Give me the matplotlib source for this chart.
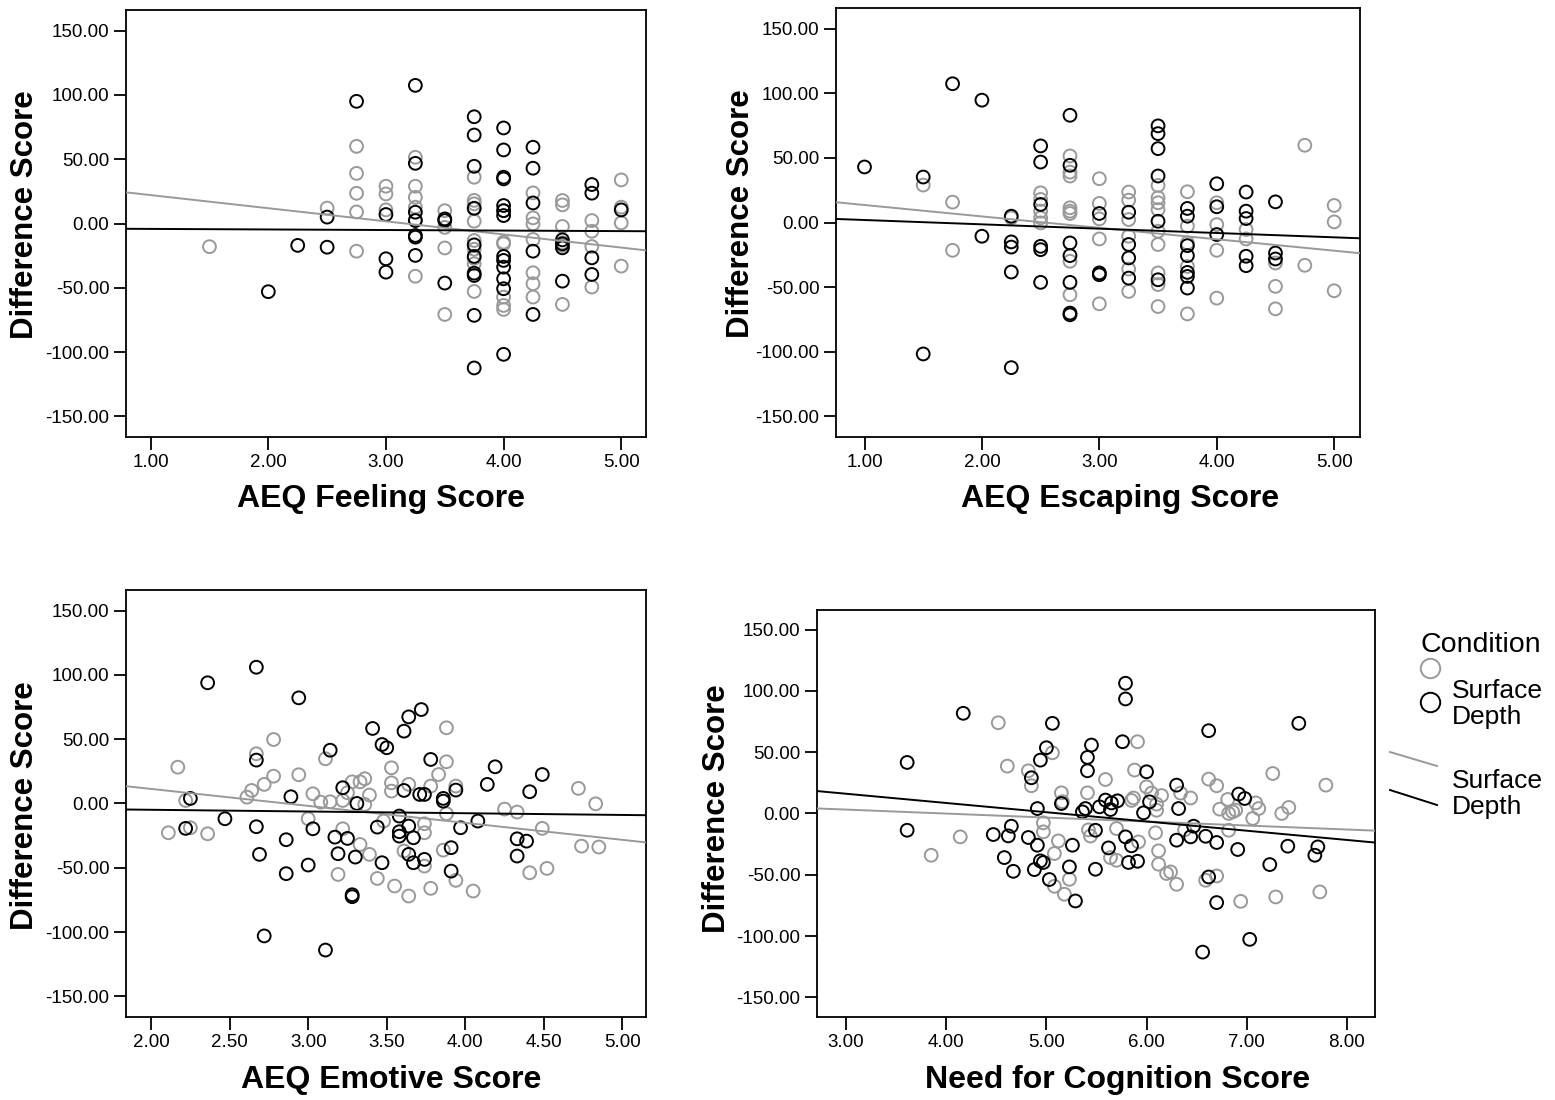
import numpy as np
import matplotlib
matplotlib.use('Agg')
import matplotlib.pyplot as plt
from matplotlib.lines import Line2D
from matplotlib.ticker import FormatStrFormatter

plt.rcParams['font.family'] = ['Liberation Sans', 'DejaVu Sans']

GRAY = '#999999'
BLACK = '#000000'

# --- AEQ Feeling (top left)
feel_surf_x = [1.5, 2.5, 2.75, 2.75, 2.75, 2.75, 2.75, 3.0, 3.0, 3.0,
               3.25, 3.25, 3.25, 3.25, 3.25, 3.25, 3.5, 3.5, 3.5, 3.5,
               3.75, 3.75, 3.75, 3.75, 3.75, 3.75, 3.75, 3.75, 3.75, 3.75,
               4.0, 4.0, 4.0, 4.0, 4.0, 4.0,
               4.25, 4.25, 4.25, 4.25, 4.25, 4.25, 4.25,
               4.5, 4.5, 4.5, 4.5, 4.5, 4.5, 4.75, 4.75, 4.75, 4.75,
               5.0, 5.0, 5.0, 5.0]
feel_surf_y = [-18, 12, 60, 39, 23.5, 9, -21.5, 29, 23, 10.6,
               51.5, 29, 20.4, 12.7, 3, -41, 10, -3, -19, -70.7,
               36, 18, 15.3, 11.4, 1.8, -13.2, -20, -27, -31.3, -52.8,
               10, -14.5, -15.8, -57.2, -63.7, -66.8,
               23.8, 4.4, -0.3, -12.4, -38.3, -46.8, -57.2,
               17.9, 14.5, -2.3, -15, -17, -62.9, 2.3, -6, -17.9, -49.4,
               33.9, 12.7, 0.5, -33.1]
feel_deep_x = [2.0, 2.25, 2.5, 2.5, 2.75, 3.0, 3.0, 3.0,
               3.25, 3.25, 3.25, 3.25, 3.25, 3.25, 3.25, 3.5, 3.5, 3.5,
               3.75, 3.75, 3.75, 3.75, 3.75, 3.75, 3.75, 3.75, 3.75, 3.75,
               4.0, 4.0, 4.0, 4.0, 4.0, 4.0, 4.0, 4.0, 4.0, 4.0, 4.0, 4.0, 4.0,
               4.25, 4.25, 4.25, 4.25, 4.25, 4.5, 4.5, 4.5, 4.5,
               4.75, 4.75, 4.75, 4.75, 5.0]
feel_deep_y = [-53, -17, 5, -18.4, 95, 7, -27.4, -37.8,
               107.4, 46.8, 8.8, 2.3, -9.3, -10.6, -24.8, 3.6, 2.3, -46.3,
               83, 68.8, 44.5, 11.9, -16.6, -25.6, -38.6, -40.4, -71.4, -112.3,
               74.3, 57.2, 36, 34.7, 14, 10, 6.2, -25.6, -28.7, -33.9, -43, -50.7, -101.7,
               59.3, 43, 16, -21.5, -70.7, -12.7, -15.8, -18.9, -44.8,
               30.3, 23.6, -26.7, -39.6, 10.6]

# --- AEQ Escaping (top right)
esc_surf_x = [1.5, 1.75, 1.75, 2.25, 2.5, 2.5, 2.5, 2.5, 2.5,
              2.75, 2.75, 2.75, 2.75, 2.75, 2.75, 2.75, 2.75,
              3.0, 3.0, 3.0, 3.0, 3.0, 3.25, 3.25, 3.25, 3.25, 3.25, 3.25,
              3.5, 3.5, 3.5, 3.5, 3.5, 3.5, 3.5, 3.5, 3.5,
              3.75, 3.75, 3.75, 3.75, 3.75, 4.0, 4.0, 4.0, 4.0,
              4.25, 4.25, 4.5, 4.5, 4.5, 4.75, 4.75, 5.0, 5.0, 5.0]
esc_surf_y = [29, 15.8, -21.5, 3.6, 23, 17.9, 8.8, 3.6, -0.3,
              51.5, 39, 36, 11.4, 8.8, 7, -30, -55.9,
              33.9, 14.8, 2.8, -12.7, -62.9, 23.6, 17.3, 2.3, -10.6, -36, -53.3,
              28.7, 19.2, 15.3, 10, -6.7, -17, -39, -48, -65,
              23.8, -2.8, -15.8, -34, -70.7, 15.3, -1.6, -21.5, -58.5,
              -5.4, -12.7, -31.3, -49.4, -66.8, 59.8, -33.1, 13.2, 0.5, -52.8]
esc_deep_x = [1.0, 1.5, 1.5, 1.75, 2.0, 2.0, 2.25, 2.25, 2.25, 2.25, 2.25,
              2.5, 2.5, 2.5, 2.5, 2.5, 2.5,
              2.75, 2.75, 2.75, 2.75, 2.75, 2.75, 2.75, 3.0, 3.0, 3.0,
              3.25, 3.25, 3.25, 3.25, 3.5, 3.5, 3.5, 3.5, 3.5, 3.5,
              3.75, 3.75, 3.75, 3.75, 3.75, 3.75, 3.75, 4.0, 4.0, 4.0,
              4.25, 4.25, 4.25, 4.25, 4.25, 4.5, 4.5, 4.5]
esc_deep_y = [43, 35.2, -101.7, 107.4, 94.7, -10.6, 4.9, -15, -19, -38.3, -112.3,
              59.3, 46.8, 14, -18.4, -21, -46.3,
              83, 44.3, -15.8, -25.6, -46.3, -70.1, -71.4, 7, -39, -40.4,
              8, -17, -27.4, -43, 74.8, 68.8, 57.2, 36, 1, -44.3,
              10.9, 4.9, -17.9, -25.6, -38.6, -41.7, -50.7, 30, 12.2, -9.3,
              23.6, 8.8, 3.1, -26.1, -33.4, 16, -23.6, -28.2]

# --- AEQ Emotive (bottom left)
emo_surf_x = [2.17, 2.22, 2.11, 2.25, 2.36, 2.67, 2.78, 2.78, 2.72, 2.64, 2.61, 2.94,
              3.0, 3.03, 3.08, 3.14, 3.11, 3.22, 3.28, 3.25, 3.33, 3.36, 3.39, 3.36,
              3.22, 3.33, 3.39, 3.19, 3.44,
              3.88, 3.88, 3.53, 3.83, 3.53, 3.53, 3.64, 3.78, 3.94, 4.72, 4.83, 4.25,
              4.33, 3.88, 3.74, 3.74, 4.49, 4.74, 4.85, 4.41, 4.52, 3.86, 3.94, 4.05,
              3.74, 3.55, 3.64, 3.78, 3.61, 3.48]
emo_surf_y = [28.2, 2.3, -22.8, -18.9, -23.6, 38.6, 49.7, 21.2, 14.8, 10.1, 4.9, 22.3,
              -11.9, 7.5, 1, 1.3, 34.7, 2.3, 16.8, 8.3, 16.8, 19.2, 6.5, -0.8,
              -19.7, -31.9, -39.6, -55.2, -58.3,
              58.8, 32.4, 27.7, 22.5, 16, 9.6, 14.8, 13.5, 13.5, 11.7, -0.3, -4.4,
              -6.7, -8, -15.8, -22.8, -19.4, -33.2, -33.9, -53.9, -50.5, -36.3, -59.8, -68.1,
              -48.7, -64.2, -72, -66, -37, -13.7]
emo_deep_x = [2.25, 2.22, 2.36, 2.47, 2.67, 2.67, 2.67, 2.69, 2.72, 2.94, 2.89, 2.86,
              2.86, 3.03, 3.0, 3.14, 3.11, 3.22, 3.31, 3.17, 3.25, 3.19, 3.30, 3.28,
              3.28, 3.41, 3.47, 3.50, 3.44, 3.47,
              3.72, 3.64, 3.61, 3.78, 4.19, 4.49, 4.14, 3.61, 3.71, 3.74, 3.86, 3.86,
              3.94, 4.41, 3.58, 3.64, 3.58, 3.58, 3.67, 3.97, 4.08, 4.33, 4.39, 4.33,
              3.91, 3.91, 3.64, 3.67, 3.74]
emo_deep_y = [3.9, -19.4, 93.8, -11.9, 105.9, 33.7, -18.1, -39.6, -103, 82.1, 5.2, -28.2,
              -54.6, -19.7, -47.9, 41.4, -114, 12.2, 0, -26.2, -27.2, -39.1, -41.7, -71,
              -72.5, 58.3, 45.8, 43.3, -18.4, -46.1,
              73, 67.3, 56.2, 34.2, 28.5, 22.5, 14.8, 10.1, 7, 7, 3.9, 1.8,
              10.4, 9.1, -9.8, -17.6, -22, -25.4, -26.7, -18.9, -13.7, -27.5, -29.3, -40.9,
              -34.4, -52.6, -39.6, -46.1, -43.5]

# --- Need for Cognition (bottom right)
nfc_surf_x = [4.52, 5.06, 4.61, 4.82, 4.85, 5.15, 5.41, 4.97, 4.97, 4.14, 3.85, 5.12,
              5.08, 5.08, 5.23, 5.18, 5.42, 5.44, 5.16,
              5.91, 5.88, 5.59, 7.26, 7.79, 6.62, 6.70, 6.0, 6.05, 6.15, 6.34, 6.44,
              6.81, 6.73, 6.82, 6.86, 6.89, 7.09, 7.12, 7.06, 7.35, 7.42, 5.70, 5.92,
              5.64, 5.70, 6.09, 6.12, 6.12, 6.20, 6.24, 6.30, 6.38, 6.82, 6.59, 6.70,
              6.94, 7.29, 7.73, 5.85, 5.87, 6.1, 6.1]
nfc_surf_y = [74, 49.5, 38.6, 34.8, 22.6, 16.8, 16.8, -7.7, -15, -19.1, -34.1, -22.4,
              -32.7, -59.4, -53.7, -65.9, -13.4, -18.4, 9.6,
              58.5, 35.4, 27.7, 32.6, 23.1, 28, 22.6, 21.7, 16.6, 14.6, 16.6, 12.6,
              11.4, 3.5, 0, 1.3, 2.7, 8.6, 4, -4.1, 0, 4.9, -12.3, -23.2,
              -36, -38.2, -15.8, -30.5, -41.4, -49, -47.7, -57.8, -13.4, -13.7, -54.5, -51,
              -71.7, -68.1, -64, 10.6, 12.6, 2.6, 7.6]
nfc_deep_x = [4.17, 5.06, 3.61, 5.0, 4.94, 4.85, 5.45, 5.41, 5.41, 5.15, 4.91, 5.36,
              5.39, 3.61, 4.47, 4.62, 4.65, 4.82, 4.91, 5.26, 4.58, 4.67, 4.88, 4.94,
              4.97, 5.03, 5.23, 5.29, 5.49, 5.49,
              5.79, 5.79, 7.52, 6.62, 5.76, 6.0, 6.30, 6.92, 6.98, 6.03, 6.32, 5.97,
              5.59, 5.65, 5.71, 5.64, 5.53, 6.47, 5.79, 5.85, 5.62, 5.82, 5.91, 6.30,
              6.44, 6.59, 6.70, 6.91, 6.62, 6.70, 6.56, 7.03, 7.23, 7.41, 7.71, 7.68]
nfc_deep_y = [81.7, 73.5, 41.6, 53.6, 43.5, 29.1, 55.8, 45.7, 34.8, 8.1, 4, 1.3,
              4, -13.7, -17.2, -18.3, -10.4, -19.6, -25.9, -25.9, -36, -47.2, -45.8, -38.7,
              -40, -53.9, -43.6, -71.4, -13.7, -45.5,
              106.2, 93.4, 73.5, 67.5, 58.5, 34, 23.1, 15.8, 12.2, 9.5, 4, 0.5,
              10.9, 8.6, 10.3, 3.2, 5.4, -10.4, -19.1, -26.4, -28.1, -40, -39, -21.8,
              -19.1, -18.6, -23.7, -29.4, -51.8, -72.7, -113.1, -102.7, -41.7, -26.7, -27.3, -34.1]

# fit lines (intercept, slope)
fit_feel = {'Surface': (32.3, -10.2), 'Depth': (-3.76, -0.43)}
fit_esc = {'Surface': (22.4, -8.84), 'Depth': (5.3, -3.35)}
fit_emo = {'Surface': (37.7, -13.2), 'Depth': (-2.25, -1.34)}
fit_nfc = {'Surface': (12.9, -3.25), 'Depth': (38.7, -7.54)}

y_ticks = [-150, -100, -50, 0, 50, 100, 150]

fig = plt.figure(figsize=(15.55, 11), dpi=100)

panels = [
    dict(rect=[0.0810, 0.6027, 0.3344, 0.3882], xlim=(0.79, 5.21), xticks=[1, 2, 3, 4, 5],
         xlabel='AEQ Feeling Score', xl_pos=(0.49, -0.145), yl_pos=(-0.194, 0.52),
         sx=feel_surf_x, sy=feel_surf_y, dx=feel_deep_x, dy=feel_deep_y, fit=fit_feel),
    dict(rect=[0.5376, 0.6027, 0.3370, 0.3900], xlim=(0.757, 5.22), xticks=[1, 2, 3, 4, 5],
         xlabel='AEQ Escaping Score', xl_pos=(0.542, -0.145), yl_pos=(-0.181, 0.52),
         sx=esc_surf_x, sy=esc_surf_y, dx=esc_deep_x, dy=esc_deep_y, fit=fit_esc),
    dict(rect=[0.0810, 0.0755, 0.3344, 0.3882], xlim=(1.84, 5.15),
         xticks=[2, 2.5, 3, 3.5, 4, 4.5, 5],
         xlabel='AEQ Emotive Score', xl_pos=(0.51, -0.1475), yl_pos=(-0.194, 0.496),
         sx=emo_surf_x, sy=emo_surf_y, dx=emo_deep_x, dy=emo_deep_y, fit=fit_emo),
    dict(rect=[0.5254, 0.0755, 0.3588, 0.3700], xlim=(2.71, 8.28), xticks=[3, 4, 5, 6, 7, 8],
         xlabel='Need for Cognition Score', xl_pos=(0.538, -0.155), yl_pos=(-0.18, 0.513),
         sx=nfc_surf_x, sy=nfc_surf_y, dx=nfc_deep_x, dy=nfc_deep_y, fit=fit_nfc),
]

for p in panels:
    ax = fig.add_axes(p['rect'])
    ax.scatter(p['sx'], p['sy'], s=85, facecolors='none', edgecolors=GRAY, linewidths=1.4, zorder=3)
    ax.scatter(p['dx'], p['dy'], s=85, facecolors='none', edgecolors=BLACK, linewidths=1.4, zorder=4)
    ax.set_xlim(*p['xlim'])
    ax.set_ylim(-166, 166)
    xs = np.array(ax.get_xlim())
    for cond, col in [('Surface', GRAY), ('Depth', BLACK)]:
        b0, b1 = p['fit'][cond]
        ax.plot(xs, b0 + b1 * xs, color=col, lw=1.4, zorder=5)
    ax.set_xticks(p['xticks'])
    ax.set_yticks(y_ticks)
    ax.xaxis.set_major_formatter(FormatStrFormatter('%.2f'))
    ax.yaxis.set_major_formatter(FormatStrFormatter('%.2f'))
    ax.tick_params(direction='out', length=9, width=1.3, labelsize=13.5, pad=3)
    for sp in ax.spines.values():
        sp.set_linewidth(1.3)
    ax.text(p['xl_pos'][0], p['xl_pos'][1], p['xlabel'], transform=ax.transAxes,
            ha='center', va='center', fontsize=23, fontweight='bold')
    ax.text(p['yl_pos'][0], p['yl_pos'][1], 'Difference Score', transform=ax.transAxes,
            ha='center', va='center', rotation=90, fontsize=22.5, fontweight='bold')

# legend drawn at figure level
W, H = 1555, 1100
def fx(px):
    return px / W
def fy(py):
    return 1 - py / H

fig.text(fx(1481), fy(652), 'Condition', ha='center', va='baseline', fontsize=20.5)
fig.lines.append(Line2D([fx(1430)], [fy(668)], marker='o', markersize=14, mfc='none',
                        mec=GRAY, mew=1.4, transform=fig.transFigure))
fig.lines.append(Line2D([fx(1430)], [fy(702)], marker='o', markersize=14, mfc='none',
                        mec=BLACK, mew=1.4, transform=fig.transFigure))
fig.text(fx(1452), fy(698), 'Surface', ha='left', va='baseline', fontsize=19)
fig.text(fx(1452), fy(724), 'Depth', ha='left', va='baseline', fontsize=19)
fig.lines.append(Line2D([fx(1390), fx(1437)], [fy(752), fy(766)], color=GRAY, lw=1.4,
                        transform=fig.transFigure))
fig.lines.append(Line2D([fx(1390), fx(1437)], [fy(790), fy(805)], color=BLACK, lw=1.4,
                        transform=fig.transFigure))
fig.text(fx(1452), fy(788), 'Surface', ha='left', va='baseline', fontsize=19)
fig.text(fx(1452), fy(814), 'Depth', ha='left', va='baseline', fontsize=19)

fig.savefig('out.png', dpi=100)
